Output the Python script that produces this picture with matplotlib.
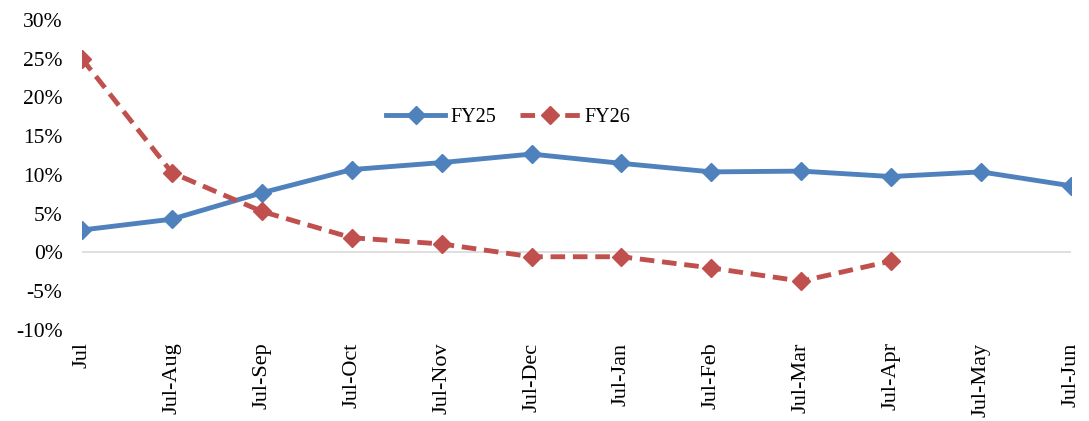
import numpy as np
import matplotlib.pyplot as plt

months = ['Jul', 'Jul-Aug', 'Jul-Sep', 'Jul-Oct', 'Jul-Nov', 'Jul-Dec',
          'Jul-Jan', 'Jul-Feb', 'Jul-Mar', 'Jul-Apr', 'Jul-May', 'Jul-Jun']
fy25 = [2.9, 4.3, 7.7, 10.7, 11.6, 12.7, 11.5, 10.4, 10.5, 9.8, 10.4, 8.6]
fy26 = [25.0, 10.3, 5.3, 1.9, 1.1, -0.55, -0.55, -2.0, -3.7, -1.1]
yticks = [-10, -5, 0, 5, 10, 15, 20, 25, 30]

plt.rcParams['font.family'] = ['Liberation Serif', 'DejaVu Serif']

fig = plt.figure(figsize=(10.89, 4.21), dpi=100)
ax = fig.add_axes([0.0753, 0.2162, 0.9082, 0.7363])

x = np.arange(len(months))
ax.axhline(0, color='#D9D9D9', linewidth=1.2, zorder=1)
ax.plot(x, fy25, color='#4F81BD', linewidth=3.5, marker='D', markersize=9,
        label='FY25', zorder=3)
ax.plot(x[:len(fy26)], fy26, color='#C0504D', linewidth=3.5, marker='D',
        markersize=9, linestyle=(0, (3, 1.6)), label='FY26', zorder=3)

ax.set_xlim(0, len(months) - 1)
ax.set_ylim(-10, 30)
ax.set_yticks(yticks)
ax.set_yticklabels([f'{v}%' for v in yticks], fontsize=15.5)
ax.set_xticks(x)
ax.set_xticklabels(months, rotation=90, fontsize=16, va='top')
ax.tick_params(axis='y', length=0, pad=14)
ax.tick_params(axis='x', length=0, pad=9)
for s in ax.spines.values():
    s.set_visible(False)

ax.legend(loc='center', bbox_to_anchor=(0.431, 0.687), ncol=2, frameon=False,
          fontsize=14.5, handlelength=2.95, columnspacing=1.2, handletextpad=0.25)

fig.savefig('out.png', dpi=100)
